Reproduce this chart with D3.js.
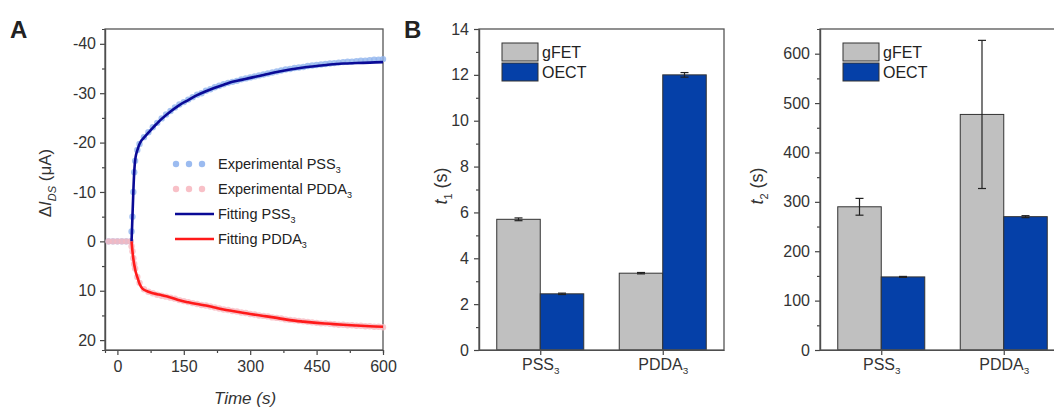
<!DOCTYPE html>
<html>
<head>
<meta charset="utf-8">
<script src="https://cdn.jsdelivr.net/npm/d3@7"></script>
<style>
  body { margin: 0; background: #fff; }
  svg { font-family: "Liberation Sans", Arial, sans-serif; }
  .axis text { fill: #333; }
  .axis path, .axis line { stroke: #444; stroke-width: 1.2; }
</style>
</head>
<body>
<div id="wrapper"></div>
<script>
// ---- panel A data ----
const expTime = [-20, -10, 0, 10, 20, 30, 32, 34, 36, 38, 40, 45, 50,
  60, 70, 80, 90, 100, 110, 120, 130, 140, 150, 160, 170, 180, 190, 200,
  210, 220, 230, 240, 250, 260, 270, 280, 290, 300, 310, 320, 330, 340,
  350, 360, 370, 380, 390, 400, 410, 420, 430, 440, 450, 460, 470, 480,
  490, 500, 510, 520, 530, 540, 550, 560, 570, 580, 590, 600]
const expPSS = [0, 0, 0, 0, 0, 0, -2, -5, -10, -14, -16.3, -18.5, -19.7,
  -21.1, -22.1, -23.1, -24.0, -24.9, -25.7, -26.4, -27.1, -27.7, -28.2, -28.7, -29.2, -29.7, -30.0, -30.5,
  -30.8, -31.2, -31.5, -31.8, -32.1, -32.3, -32.5, -32.8, -33.0, -33.2, -33.4, -33.6, -33.8, -34.0,
  -34.2, -34.4, -34.6, -34.8, -34.9, -35.1, -35.2, -35.3, -35.5, -35.6, -35.7, -35.8, -35.9, -36.0,
  -36.1, -36.2, -36.3, -36.4, -36.4, -36.5, -36.6, -36.6, -36.7, -36.8, -36.8, -36.9]
const expPDDA = [0, 0, 0, 0, 0, 0, 1, 2, 3.4, 4.6, 5.5, 7.2, 8.4,
  9.7, 10.2, 10.5, 10.8, 11.0, 11.2, 11.4, 11.6, 11.9, 12.1, 12.3, 12.5, 12.7, 12.9, 13.0,
  13.2, 13.4, 13.6, 13.8, 13.9, 14.1, 14.2, 14.4, 14.5, 14.7, 14.8, 15.0, 15.1, 15.2,
  15.4, 15.5, 15.6, 15.8, 15.9, 16.0, 16.1, 16.2, 16.3, 16.4, 16.5, 16.6, 16.6, 16.7,
  16.8, 16.9, 16.9, 17.0, 17.0, 17.1, 17.1, 17.2, 17.2, 17.3, 17.3, 17.4]

const fitTime = [32, 34, 36, 38, 40, 42, 46, 50, 55, 60, 70, 80, 90, 100, 120, 140, 160, 180, 200,
  220, 240, 260, 280, 300, 330, 360, 390, 420, 450, 480, 510, 540, 570, 600]
const fitPSS = [0, -5, -10, -14, -16.3, -17.5, -18.7, -19.7, -20.5, -21.0, -22.0, -23.0, -23.9, -24.8,
  -26.3, -27.6, -28.6, -29.6, -30.4, -31.1, -31.7, -32.3, -32.7, -33.1, -33.7, -34.3, -34.8,
  -35.2, -35.5, -35.8, -36.0, -36.1, -36.2, -36.3]
const fitPDDA = [0, 2.0, 3.5, 4.7, 5.6, 6.4, 7.5, 8.6, 9.4, 9.8, 10.2, 10.5, 10.7, 10.9,
  11.35, 11.95, 12.35, 12.7, 13.0, 13.4, 13.8, 14.1, 14.4, 14.7, 15.1, 15.5, 15.95,
  16.25, 16.5, 16.7, 16.9, 17.05, 17.2, 17.3]

// ---- panel B data ----
const samples = ["PSS", "PDDA"]
const devices = ["gFET", "OECT"]
const t1Mean = [[5.7, 2.45], [3.35, 12.0]]
const t1Err = [[0.06, 0.03], [0.03, 0.1]]
const t2Mean = [[290, 148], [477, 270]]
const t2Err = [[17, 1], [150, 2]]

const colBlueBar = "#0540a8"
const colGrayBar = "#c0c0c0"

const svg = d3.select("#wrapper").append("svg")
  .attr("width", 1054).attr("height", 408)

// label with subscript helper
function subText(sel, main, sub, size) {
  sel.append("tspan").text(main)
  sel.append("tspan").text(sub).attr("font-size", size * 0.62).attr("dy", size * 0.28)
}
const plain = d => String(d)

// ================= Panel A =================
const A = { left: 105, right: 383, top: 29, bottom: 350 }
const xA = d3.scaleLinear().domain([-28, 600]).range([A.left, A.right])
const yA = d3.scaleLinear().domain([-43, 22]).range([A.top, A.bottom])

svg.append("g").attr("class", "axis")
  .attr("transform", `translate(0,${A.bottom})`)
  .call(d3.axisBottom(xA).tickValues([75, 225, 375, 525]).tickSize(3).tickFormat(""))
svg.append("g").attr("class", "axis")
  .attr("transform", `translate(0,${A.bottom})`)
  .call(d3.axisBottom(xA).tickValues([0, 150, 300, 450, 600]).tickSize(5).tickSizeOuter(0).tickPadding(6).tickFormat(plain))
  .style("font-size", "16px")
svg.append("g").attr("class", "axis")
  .attr("transform", `translate(${A.left},0)`)
  .call(d3.axisLeft(yA).tickValues([-35, -25, -15, -5, 5, 15]).tickSize(3).tickFormat(""))
svg.append("g").attr("class", "axis")
  .attr("transform", `translate(${A.left},0)`)
  .call(d3.axisLeft(yA).tickValues([-40, -30, -20, -10, 0, 10, 20]).tickSize(5).tickSizeOuter(0).tickPadding(4).tickFormat(plain))
  .style("font-size", "16px")
svg.append("rect").attr("x", A.left).attr("y", A.top)
  .attr("width", A.right - A.left).attr("height", A.bottom - A.top)
  .attr("fill", "none").attr("stroke", "#555").attr("stroke-width", 1.3)

const gA = svg.append("g")
gA.selectAll(".dotPSS").data(expTime).join("circle")
  .attr("cx", d => xA(d)).attr("cy", (d, i) => yA(expPSS[i])).attr("r", 3.2)
  .attr("fill", "#90b4ee").attr("opacity", 0.8)
gA.selectAll(".dotPDDA").data(expTime).join("circle")
  .attr("cx", d => xA(d)).attr("cy", (d, i) => yA(expPDDA[i])).attr("r", 3.2)
  .attr("fill", "#f7b9c1").attr("opacity", 0.8)

const lineA = d3.line().x(d => xA(d[0])).y(d => yA(d[1])).curve(d3.curveCatmullRom)
gA.append("path").attr("d", lineA(fitTime.map((t, i) => [t, fitPSS[i]])))
  .attr("fill", "none").attr("stroke", "#0a0a96").attr("stroke-width", 2.6)
gA.append("path").attr("d", lineA(fitTime.map((t, i) => [t, fitPDDA[i]])))
  .attr("fill", "none").attr("stroke", "#ff1a1a").attr("stroke-width", 2.6)

// legend A
const legA = svg.append("g").style("font-size", "14.5px").attr("fill", "#222")
const legRows = [
  { label: "Experimental PSS", kind: "dot", color: "#90b4ee" },
  { label: "Experimental PDDA", kind: "dot", color: "#f7b9c1" },
  { label: "Fitting PSS", kind: "line", color: "#0a0a96" },
  { label: "Fitting PDDA", kind: "line", color: "#ff1a1a" }
]
const legY = [164, 189, 214, 239]
legRows.forEach((r, i) => {
  if (r.kind === "dot") {
    [176, 189, 202].forEach(cx => legA.append("circle").attr("cx", cx).attr("cy", legY[i])
      .attr("r", 3.2).attr("fill", r.color).attr("opacity", 0.9))
  } else {
    legA.append("line").attr("x1", 175).attr("x2", 214).attr("y1", legY[i]).attr("y2", legY[i])
      .attr("stroke", r.color).attr("stroke-width", 2.6)
  }
  const t = legA.append("text").attr("x", 218).attr("y", legY[i] + 5)
  subText(t, r.label, "3", 14.5)
})

// axis titles A
const yTitleA = svg.append("text").attr("transform", "translate(51,183) rotate(-90)")
  .attr("text-anchor", "middle").style("font-size", "17px").attr("fill", "#333")
yTitleA.append("tspan").text("Δ")
yTitleA.append("tspan").text("I").style("font-style", "italic")
yTitleA.append("tspan").text("DS").style("font-style", "italic").attr("font-size", 11).attr("dy", 5)
yTitleA.append("tspan").text(" (μA)").attr("dy", -5)
svg.append("text").attr("x", 245).attr("y", 404).attr("text-anchor", "middle")
  .style("font-size", "17px").style("font-style", "italic").attr("fill", "#333").text("Time (s)")

svg.append("text").attr("x", 10).attr("y", 38).style("font-size", "24px")
  .style("font-weight", "bold").attr("fill", "#222").text("A")
svg.append("text").attr("x", 404).attr("y", 38).style("font-size", "24px")
  .style("font-weight", "bold").attr("fill", "#222").text("B")

// ================= Panel B =================
function drawBars(box, yMax, majors, minors, means, errs, yLabelSub, yTitleX) {
  const x0 = d3.scalePoint().domain(samples).range([box.left, box.right]).padding(0.5)
  const x1 = d3.scaleBand().domain(devices).range([-43.5, 43.5])
  const y = d3.scaleLinear().domain([0, yMax]).range([box.bottom, box.top])

  const g = svg.append("g")
  samples.forEach((s, si) => {
    devices.forEach((dv, di) => {
      const v = means[si][di], e = errs[si][di]
      const bx = x0(s) + x1(dv)
      g.append("rect").attr("x", bx).attr("y", y(v))
        .attr("width", x1.bandwidth()).attr("height", y(0) - y(v))
        .attr("fill", di === 0 ? colGrayBar : colBlueBar)
        .attr("stroke", "#333").attr("stroke-width", 1)
      const cx = bx + x1.bandwidth() / 2
      g.append("line").attr("x1", cx).attr("x2", cx).attr("y1", y(v - e)).attr("y2", y(v + e))
        .attr("stroke", "#222").attr("stroke-width", 1.2)
      ;[v - e, v + e].forEach(ev => g.append("line").attr("x1", cx - 4).attr("x2", cx + 4)
        .attr("y1", y(ev)).attr("y2", y(ev)).attr("stroke", "#222").attr("stroke-width", 1.2))
    })
  })

  svg.append("g").attr("class", "axis")
    .attr("transform", `translate(${box.left},0)`)
    .call(d3.axisLeft(y).tickValues(minors).tickSize(3).tickFormat(""))
  svg.append("g").attr("class", "axis")
    .attr("transform", `translate(${box.left},0)`)
    .call(d3.axisLeft(y).tickValues(majors).tickSize(5).tickSizeOuter(0).tickPadding(5).tickFormat(plain))
    .style("font-size", "16px")
  const xa = svg.append("g").attr("class", "axis")
    .attr("transform", `translate(0,${box.bottom})`)
    .call(d3.axisBottom(x0).tickSize(5).tickSizeOuter(0).tickPadding(6).tickFormat(""))
  xa.selectAll(".tick").append("text").attr("y", 20).attr("text-anchor", "middle")
    .style("font-size", "16px").attr("fill", "#333")
    .each(function(d) { subText(d3.select(this), d, "3", 16) })
  svg.append("rect").attr("x", box.left).attr("y", box.top)
    .attr("width", box.right - box.left).attr("height", box.bottom - box.top)
    .attr("fill", "none").attr("stroke", "#555").attr("stroke-width", 1.3)

  // legend
  const lx = box.left + 23
  devices.forEach((dv, di) => {
    svg.append("rect").attr("x", lx).attr("y", 43 + di * 20).attr("width", 36).attr("height", 18)
      .attr("fill", di === 0 ? colGrayBar : colBlueBar).attr("stroke", "#333").attr("stroke-width", 1)
    svg.append("text").attr("x", lx + 40).attr("y", 58 + di * 20).style("font-size", "16px")
      .attr("fill", "#222").text(dv)
  })

  const yt = svg.append("text").attr("transform", `translate(${yTitleX},186) rotate(-90)`)
    .attr("text-anchor", "middle").style("font-size", "18px").attr("fill", "#333")
  yt.append("tspan").text("t").style("font-style", "italic")
  yt.append("tspan").text(yLabelSub).attr("font-size", 11).attr("dy", 5)
  yt.append("tspan").text(" (s)").attr("dy", -5)
}

drawBars({ left: 479, right: 724, top: 29, bottom: 350 }, 14,
  [0, 2, 4, 6, 8, 10, 12, 14], [1, 3, 5, 7, 9, 11, 13], t1Mean, t1Err, "1", 447)
drawBars({ left: 820, right: 1065, top: 29, bottom: 350 }, 650,
  [0, 100, 200, 300, 400, 500, 600], [50, 150, 250, 350, 450, 550], t2Mean, t2Err, "2", 763)
</script>
</body>
</html>
